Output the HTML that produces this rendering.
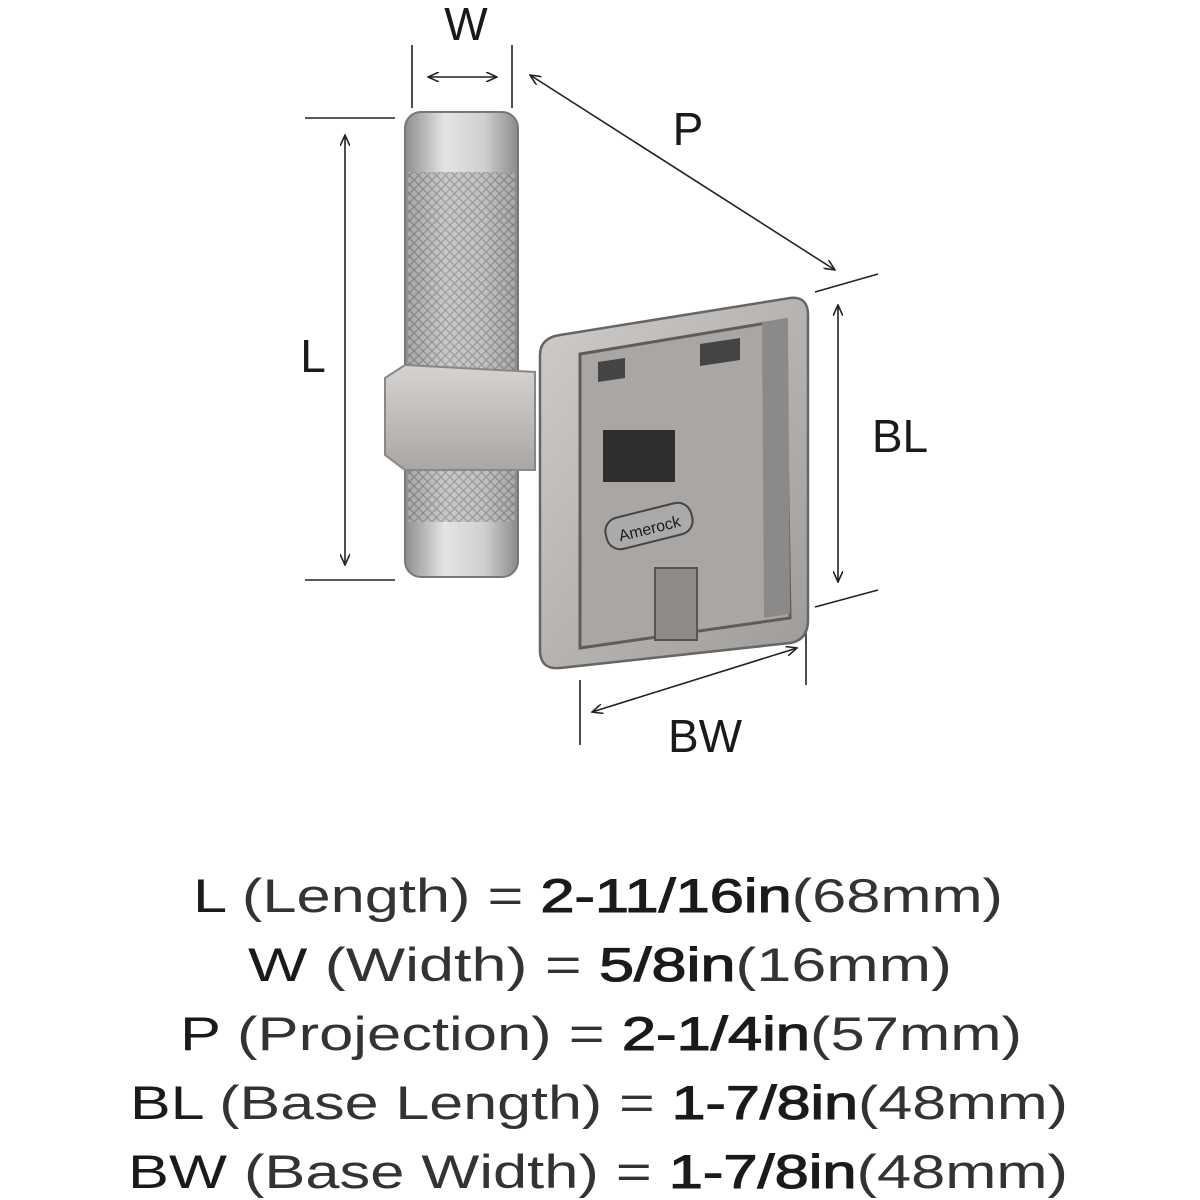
<!DOCTYPE html>
<html><head><meta charset="utf-8"><style>
html,body{margin:0;padding:0;background:#fff;}
svg{display:block;}
text{font-family:"Liberation Sans",sans-serif;fill:#1a1a1a;}
.v{stroke:#1a1a1a;stroke-width:1.1;}
.p{fill:#333;}
</style></head><body>
<svg width="1200" height="1200" viewBox="0 0 1200 1200" xmlns="http://www.w3.org/2000/svg">
<defs>
<marker id="a" markerWidth="12" markerHeight="10" refX="11" refY="5" orient="auto-start-reverse" markerUnits="userSpaceOnUse">
<path d="M0,0 L11,5 L0,10" fill="none" stroke="#222" stroke-width="1.6"/></marker>
<pattern id="knurl" width="9" height="9" patternUnits="userSpaceOnUse">
<rect width="9" height="9" fill="#b9b9b9"/>
<path d="M0,0 L9,9 M9,0 L0,9" stroke="#7a7a7a" stroke-width="1.3"/></pattern>
<linearGradient id="cyl" x1="0" x2="1">
<stop offset="0" stop-color="#8e8e8e"/><stop offset="0.35" stop-color="#e4e4e4"/><stop offset="0.7" stop-color="#d0d0d0"/><stop offset="1" stop-color="#8a8a8a"/></linearGradient>
<linearGradient id="plate" x1="0" y1="0" x2="1" y2="1">
<stop offset="0" stop-color="#cfccc9"/><stop offset="1" stop-color="#9e9b98"/></linearGradient>
<linearGradient id="br" x1="0" y1="0" x2="0" y2="1">
<stop offset="0" stop-color="#d6d3d0"/><stop offset="1" stop-color="#a9a6a3"/></linearGradient>
</defs>
<g stroke="#222" stroke-width="1.6" fill="none">
<line x1="412" y1="45" x2="412" y2="108"/><line x1="512" y1="45" x2="512" y2="108"/>
<line x1="428" y1="77" x2="497" y2="77" marker-start="url(#a)" marker-end="url(#a)"/>
<line x1="530" y1="75" x2="835" y2="270" marker-start="url(#a)" marker-end="url(#a)"/>
<line x1="305" y1="118" x2="395" y2="118"/><line x1="305" y1="580" x2="395" y2="580"/>
<line x1="345" y1="135" x2="345" y2="565" marker-start="url(#a)" marker-end="url(#a)"/>
<line x1="815" y1="292" x2="878" y2="274"/><line x1="815" y1="607" x2="878" y2="590"/>
<line x1="838" y1="305" x2="838" y2="582" marker-start="url(#a)" marker-end="url(#a)"/>
<line x1="580" y1="680" x2="580" y2="745"/><line x1="806" y1="630" x2="806" y2="685"/>
<line x1="592" y1="712" x2="797" y2="648" marker-start="url(#a)" marker-end="url(#a)"/>
</g>
<g font-size="46">
<text x="466" y="40" text-anchor="middle">W</text>
<text x="688" y="145" text-anchor="middle">P</text>
<text x="313" y="372" text-anchor="middle">L</text>
<text x="900" y="452" text-anchor="middle">BL</text>
<text x="705" y="752" text-anchor="middle">BW</text>
</g>
<rect x="405" y="112" width="113" height="465" rx="16" fill="url(#cyl)" stroke="#777" stroke-width="2"/>
<rect x="408" y="172" width="107" height="350" fill="url(#knurl)"/>
<rect x="408" y="172" width="107" height="350" fill="url(#cyl)" opacity="0.35"/>
<path d="M385,378 L405,365 L535,372 L535,470 L405,470 L385,455 Z" fill="url(#br)" stroke="#888" stroke-width="2"/>
<path d="M560,335 L790,298 Q808,296 808,315 L808,620 Q808,640 790,643 L560,668 Q540,670 540,650 L540,355 Q540,338 560,335 Z" fill="url(#plate)" stroke="#666" stroke-width="2.5"/>
<path d="M580,354 L785,320 L790,618 L580,648 Z" fill="#a9a6a3" stroke="#5f5c5a" stroke-width="3"/>
<path d="M762,322 L788,318 L790,614 L764,618 Z" fill="#8c8a88"/>
<rect x="603" y="430" width="72" height="52" fill="#2e2e2e"/>
<path d="M598,362 L625,358 L625,378 L598,382 Z" fill="#444"/>
<path d="M700,344 L740,338 L740,360 L700,366 Z" fill="#444"/>
<rect x="655" y="568" width="42" height="72" fill="#8d8a88" stroke="#555" stroke-width="2"/>
<rect x="605" y="510" width="88" height="32" rx="14" fill="#aaa" stroke="#444" stroke-width="2" transform="rotate(-14 649 526)"/>
<text x="649" y="534" font-size="16" text-anchor="middle" transform="rotate(-14 649 526)">Amerock</text>
<g font-size="47">
<text x="193" y="912" textLength="810" lengthAdjust="spacingAndGlyphs">L <tspan class="p">(Length) = </tspan><tspan class="v">2-11/16in</tspan><tspan class="p">(68mm)</tspan></text>
<text x="248" y="981" textLength="704" lengthAdjust="spacingAndGlyphs">W <tspan class="p">(Width) = </tspan><tspan class="v">5/8in</tspan><tspan class="p">(16mm)</tspan></text>
<text x="180" y="1050" textLength="842" lengthAdjust="spacingAndGlyphs">P <tspan class="p">(Projection) = </tspan><tspan class="v">2-1/4in</tspan><tspan class="p">(57mm)</tspan></text>
<text x="130" y="1119" textLength="938" lengthAdjust="spacingAndGlyphs">BL <tspan class="p">(Base Length) = </tspan><tspan class="v">1-7/8in</tspan><tspan class="p">(48mm)</tspan></text>
<text x="128" y="1188" textLength="940" lengthAdjust="spacingAndGlyphs">BW <tspan class="p">(Base Width) = </tspan><tspan class="v">1-7/8in</tspan><tspan class="p">(48mm)</tspan></text>
</g>
</svg>
</body></html>
